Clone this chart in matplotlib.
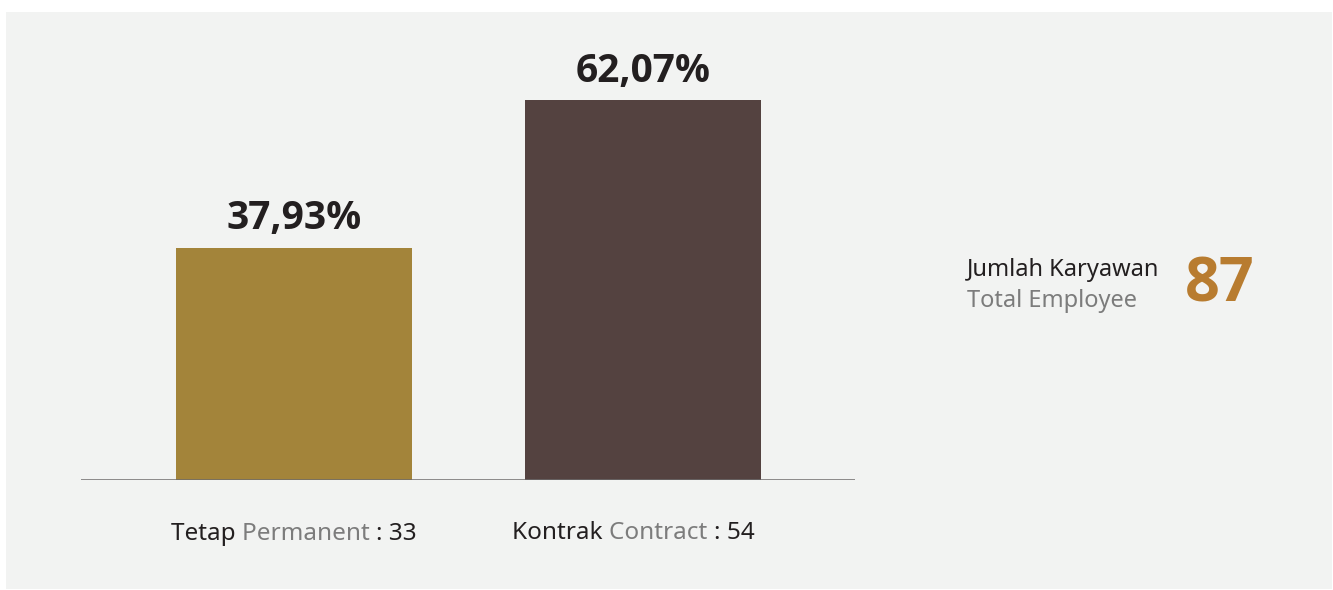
import matplotlib.pyplot as plt
from matplotlib.patches import Rectangle
from matplotlib.offsetbox import TextArea, HPacker, AnnotationBbox

# data
labels_id = ["Tetap", "Kontrak"]
labels_en = ["Permanent", "Contract"]
counts = [33, 54]
percents = [37.93, 62.07]
total = 87

bar_colors = ["#a3843a", "#544240"]
dark = "#231f20"
grey = "#7c7c7c"
plt.rcParams['font.family'] = ['Noto Sans', 'DejaVu Sans']
bold_font = ['Open Sans', 'DejaVu Sans']

W, H = 1333, 590
fig = plt.figure(figsize=(W / 100, H / 100), dpi=100, facecolor="white")

# light grey panel behind everything
fig.patches.append(Rectangle((6 / W, 1 - 589 / H), (1332 - 6) / W, (589 - 12) / H,
                             transform=fig.transFigure, facecolor="#f2f3f2",
                             edgecolor="none", zorder=-10))

ax = fig.add_axes([81 / W, 110 / H, (855 - 81) / W, (480 - 12) / H])
ax.set_facecolor("none")
ax.set_zorder(5)

x = range(len(percents))
ax.bar(x, percents, width=0.676, color=bar_colors, zorder=2)
ax.set_xlim(-0.61, 1.607)
ax.set_ylim(0, 76.5)
ax.axhline(0, color="#6d6b6b", lw=1.8, zorder=3)

for s in ax.spines.values():
    s.set_visible(False)
ax.set_xticks([])
ax.set_yticks([])

# percent labels on top of bars
for i, p in enumerate(percents):
    ax.annotate(f"{p:.2f}".replace(".", ",") + "%", (i, p), xytext=(0, 7),
                textcoords="offset points", ha="center", va="bottom",
                fontsize=28, fontweight="bold", family=bold_font, color=dark)

# two-tone category labels under the axis (second one sits a bit left)
label_dx = [0, -7]
for i, (lid, len_, c) in enumerate(zip(labels_id, labels_en, counts)):
    parts = [TextArea(lid + " ", textprops=dict(color=dark, fontsize=17.5)),
             TextArea(len_ + " ", textprops=dict(color=grey, fontsize=17.5)),
             TextArea(f": {c}", textprops=dict(color=dark, fontsize=17.5))]
    box = HPacker(children=parts, align="baseline", pad=0, sep=0)
    ab = AnnotationBbox(box, (i, 0), xybox=(label_dx[i], -39 + (1 if i else 0)),
                        xycoords="data", boxcoords="offset points",
                        box_alignment=(0.5, 0.5), frameon=False)
    ax.add_artist(ab)

# total employee block
fig.text(967 / W, 1 - 270 / H, "Jumlah Karyawan", ha="left", va="center",
         fontsize=17, color=dark)
fig.text(967 / W, 1 - 301 / H, "Total Employee", ha="left", va="center",
         fontsize=17, color=grey)
fig.text(1185 / W, 1 - 286 / H, str(total), ha="left", va="center",
         fontsize=44, fontweight="bold", family=bold_font, color="#b87c30")

fig.savefig("out.png", dpi=100, facecolor="white")
